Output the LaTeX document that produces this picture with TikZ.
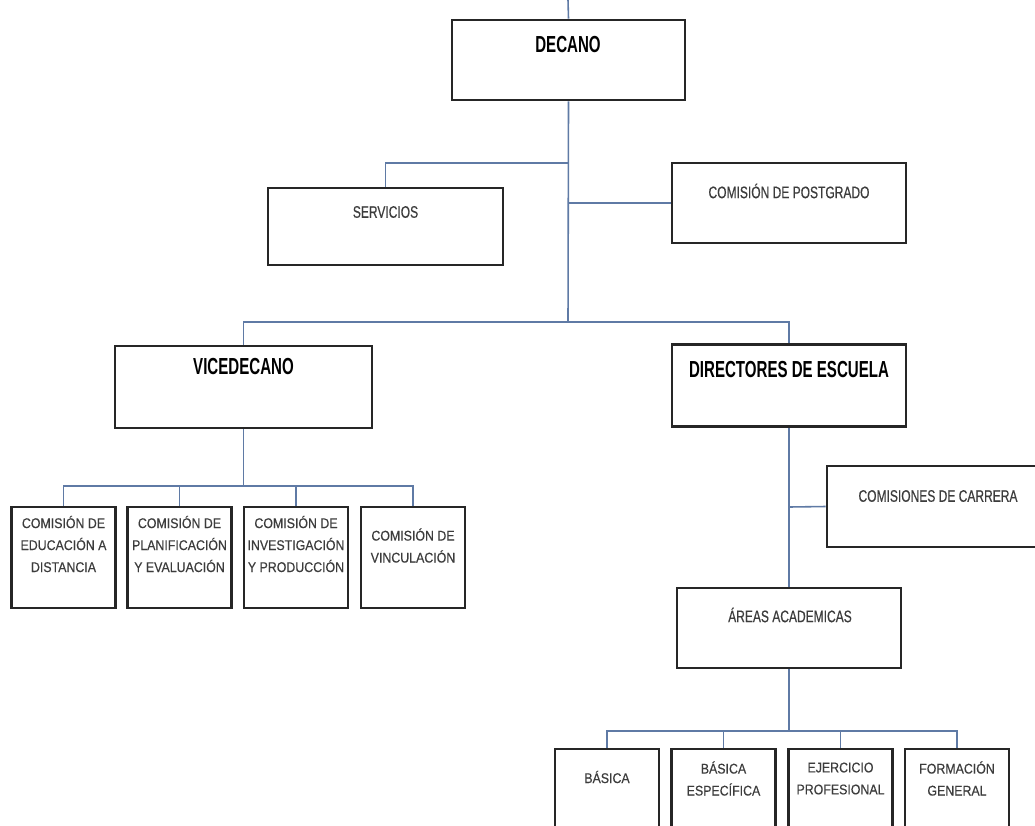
\documentclass[tikz,border=0pt]{standalone}
\usepackage{fontspec}
\setmainfont{Liberation Sans}
\newfontfamily\fuentetitulo{Liberation Sans}[FakeStretch=0.65]
\newfontfamily\fuentenormal{Liberation Sans}[FakeStretch=0.72, FakeBold=0.4]
\newfontfamily\fuentechica{Liberation Sans}[FakeStretch=0.88, FakeBold=0.4]
\usetikzlibrary{positioning}
\definecolor{linea}{RGB}{95,122,165}
\definecolor{texto}{RGB}{60,60,60}

\begin{document}
\begin{tikzpicture}[x=0.2mm, y=-0.2mm]
\tikzset{ caja/.style={draw=black!85, line width=1.6pt, inner sep=0pt},
          cajita/.style={caja, minimum width=20.8mm, minimum height=20.2mm},
          conector/.style={draw=linea, line width=0.9pt},
          titulo/.style={inner sep=0pt, font=\fuentetitulo\bfseries\fontsize{13.2}{15}\selectfont},
          normal/.style={inner sep=0pt, text=texto, font=\fuentenormal\fontsize{9.5}{12}\selectfont},
          chica/.style={inner sep=0pt, text=texto, align=center, font=\fuentechica\fontsize{8}{12.5}\selectfont},
        }

\path[use as bounding box, fill=white] (0,0) rectangle (1035,825);
%\draw [lightgray, dashed](0,0) grid[step=50] (1035,825);

% cajas
\node [caja, minimum width=46.6mm, minimum height=16mm]   (decano)     at (568.5, 60.0) {};
\node [caja, minimum width=47.0mm, minimum height=15.4mm] (servicios)  at (385.5,226.5) {};
\node [caja, minimum width=46.8mm, minimum height=16mm]   (postgrado)  at (789.0,203.0) {};
\node [caja, minimum width=51.4mm, minimum height=16.4mm] (vicedecano) at (243.5,387.0) {};
\node [caja, minimum width=46.8mm, minimum height=16.4mm] (directores) at (789.0,385.5) {};
\node [caja, minimum width=44.4mm, minimum height=16.2mm] (carrera)    at (938.0,506.5) {};
\node [caja, minimum width=44.8mm, minimum height=16mm]   (areas)      at (789.0,628.0) {};

\node [cajita] (educacion)     at ( 63.5,557.5) {};
\node [cajita] (planificacion) at (179.5,557.5) {};
\node [cajita] (investigacion) at (296.0,557.5) {};
\node [cajita] (vinculacion)   at (413.0,557.5) {};

\node [cajita] (basica)     at (607.0,799.5) {};
\node [cajita] (especifica) at (723.5,799.5) {};
\node [cajita] (ejercicio)  at (840.5,799.5) {};
\node [cajita] (formacion)  at (957.0,799.5) {};

% textos
\node [titulo] (decano-t)     at (568.0, 44.5) {DECANO};
\node [normal] (servicios-t)  at (385.5,212.0) {SERVICIOS};
\node [normal] (postgrado-t)  at (789.0,191.0) {COMISIÓN DE POSTGRADO};
\node [titulo] (vicedecano-t) at (243.5,367.0) {VICEDECANO};
\node [titulo] (directores-t) at (789.0,370.0) {DIRECTORES DE ESCUELA};
\node [normal] (carrera-t)    at (938.0,496.0) {COMISIONES DE CARRERA};
\node [normal] (areas-t)      at (790.0,615.0) {ÁREAS ACADEMICAS};

\node [chica] (educacion-t)     at ( 63.5,544.0) {COMISIÓN DE\\EDUCACIÓN A\\DISTANCIA};
\node [chica] (planificacion-t) at (179.5,544.0) {COMISIÓN DE\\PLANIFICACIÓN\\Y EVALUACIÓN};
\node [chica] (investigacion-t) at (296.0,544.0) {COMISIÓN DE\\INVESTIGACIÓN\\Y PRODUCCIÓN};
\node [chica] (vinculacion-t)   at (413.0,545.5) {COMISIÓN DE\\VINCULACIÓN};

\node [chica] (basica-t)     at (607.0,777.0) {BÁSICA};
\node [chica] (especifica-t) at (723.5,778.5) {BÁSICA\\ESPECÍFICA};
\node [chica] (ejercicio-t)  at (840.5,778.5) {EJERCICIO\\PROFESIONAL};
\node [chica] (formacion-t)  at (957.0,778.5) {FORMACIÓN\\GENERAL};

% conectores
\coordinate (arriba)     at (568,  0);
\coordinate (nudo-serv)  at (568,163);
\coordinate (nudo-post)  at (568,203);
\coordinate (rama)       at (568,322);
\coordinate (rama-vice)  at (243.5,486);
\coordinate (nudo-carr)  at (789,507);
\coordinate (rama-areas) at (789,731);

\draw [conector] (arriba) -- (decano.north);
\draw [conector] (decano.south) -- (rama);
\draw [conector] (nudo-serv) -| (servicios.north);
\draw [conector] (nudo-post) -- (postgrado.west);
\draw [conector] (vicedecano.north) |- (rama) -| (directores.north);

\draw [conector] (vicedecano.south) -- (rama-vice);
\draw [conector] (rama-vice) -| (educacion.north);
\draw [conector] (rama-vice) -| (planificacion.north);
\draw [conector] (rama-vice) -| (investigacion.north);
\draw [conector] (rama-vice) -| (vinculacion.north);

\draw [conector] (directores.south) -- (areas.north);
\draw [conector] (nudo-carr) -- (carrera.west);

\draw [conector] (areas.south) -- (rama-areas);
\draw [conector] (rama-areas) -| (basica.north);
\draw [conector] (rama-areas) -| (especifica.north);
\draw [conector] (rama-areas) -| (ejercicio.north);
\draw [conector] (rama-areas) -| (formacion.north);

\end{tikzpicture}
\end{document}
